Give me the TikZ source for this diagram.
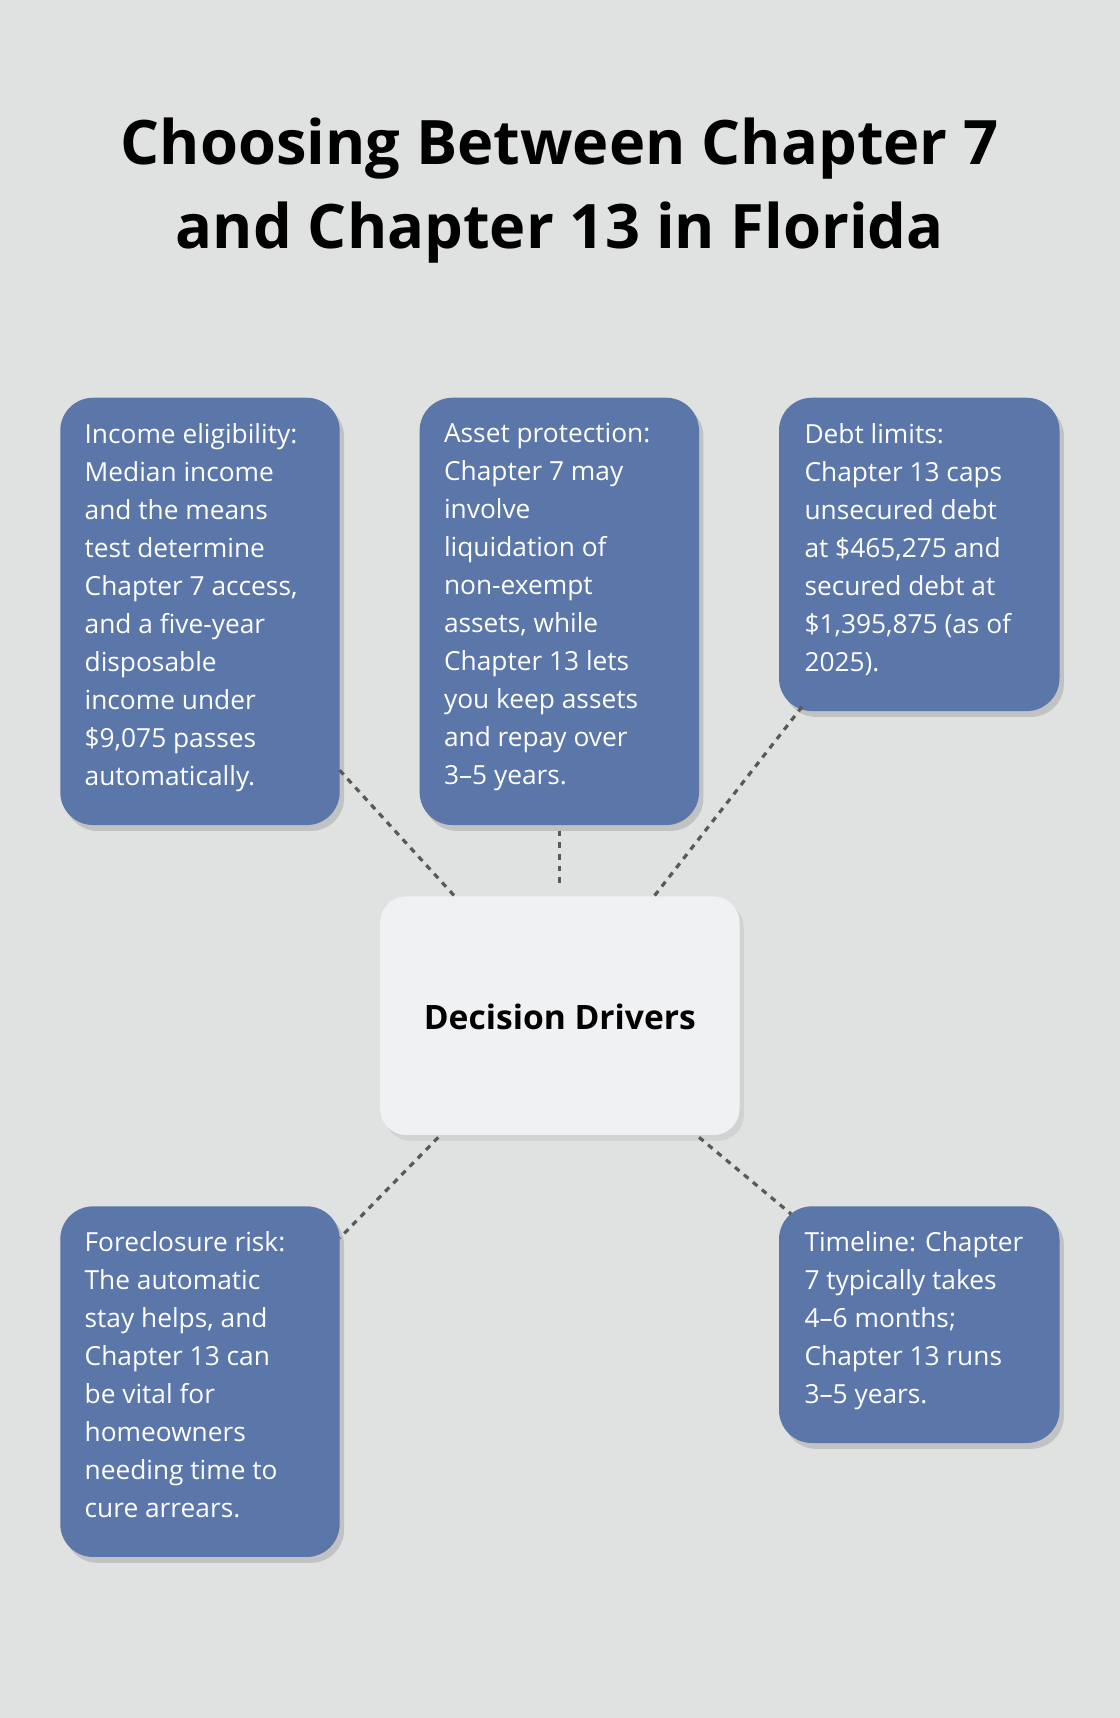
\documentclass[tikz,border=0pt]{standalone}
\usepackage{fontspec}
\setmainfont{Open Sans}
\usetikzlibrary{shadows,calc}
\definecolor{bg}{HTML}{E0E2E1}
\definecolor{card}{HTML}{5B76A8}
\definecolor{centerc}{HTML}{F0F1F3}
\begin{document}
\begin{tikzpicture}[x=0.75pt,y=-0.75pt,
  card/.style={draw=none,fill=card,rounded corners=22.5pt,anchor=north west,inner sep=0pt,
    drop shadow={shadow xshift=3pt,shadow yshift=-4pt,opacity=0.25,fill=black!60}},
  txt/.style={anchor=north west,align=left,text=white,inner sep=0pt,
    font=\fontsize{18pt}{26pt}\selectfont},
  link/.style={draw=black!65,line width=2.2pt,dash pattern=on 4pt off 4pt}]
\fill[bg] (0,0) rectangle (1022,1568);
\useasboundingbox (0,0) rectangle (1022,1568);
\node[font=\fontsize{42pt}{58pt}\selectfont\bfseries,align=center] (title) at (511,174)
  {Choosing Between Chapter 7\\and Chapter 13 in Florida};
% cards
\path[card] (55,363) rectangle (310,753);
\path[card] (383,363) rectangle (638,753);
\path[card] (711,363) rectangle (967,649);
\path[card] (55,1101) rectangle (310,1421);
\path[card] (711,1101) rectangle (967,1317);
\path[draw=none,fill=centerc,rounded corners=18pt,drop shadow={shadow xshift=3pt,shadow yshift=-4pt,opacity=0.15}] (347,818) rectangle (675,1036);
\node[font=\fontsize{23pt}{28pt}\selectfont\bfseries] (ctr) at (511,928) {Decision Drivers};
\node[txt] (t1) at (77,386) {Income eligibility:\\Median income\\and the means\\test determine\\Chapter 7 access,\\and a five-year\\disposable\\income under\\\$9,075 passes\\automatically.};
\node[txt] (t2) at (405,386) {Asset protection:\\Chapter 7 may\\involve\\liquidation of\\non-exempt\\assets, while\\Chapter 13 lets\\you keep assets\\and repay over\\3–5 years.};
\node[txt] (t3) at (734,386) {Debt limits:\\Chapter 13 caps\\unsecured debt\\at \$465,275 and\\secured debt at\\\$1,395,875 (as of\\2025).};
\node[txt] (t4) at (77,1124) {Foreclosure risk:\\The automatic\\stay helps, and\\Chapter 13 can\\be vital for\\homeowners\\needing time to\\cure arrears.};
\node[txt] (t5) at (734,1124) {Timeline: Chapter\\7 typically takes\\4–6 months;\\Chapter 13 runs\\3–5 years.};
\coordinate (a1) at (310,703); \coordinate (c1) at (415,818);
\coordinate (a2) at (511,758); \coordinate (c2) at (511,810);
\coordinate (a3) at (732,645); \coordinate (c3) at (597,818);
\coordinate (a4) at (310,1130); \coordinate (c4) at (400,1038);
\coordinate (a5) at (722,1108); \coordinate (c5) at (638,1038);
\draw[link] (a1) -- (c1);
\draw[link] (a2) -- (c2);
\draw[link] (a3) -- (c3);
\draw[link] (c4) -- (a4);
\draw[link] (c5) -- (a5);
\end{tikzpicture}
\end{document}
